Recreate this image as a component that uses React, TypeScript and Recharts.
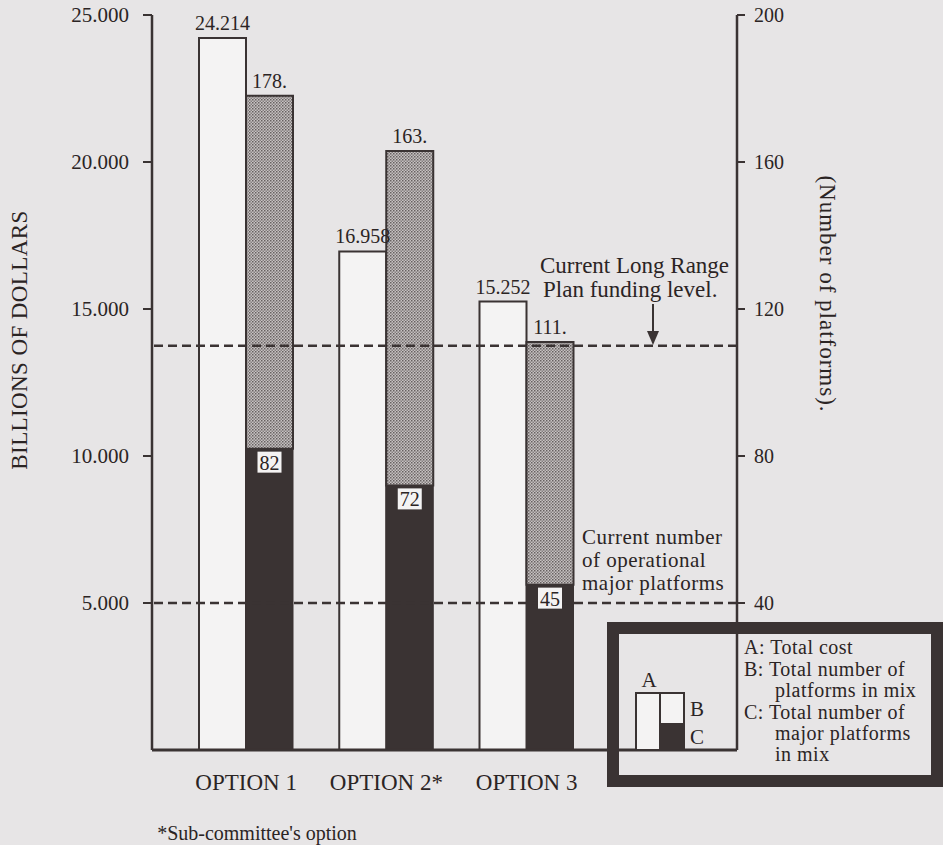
import React from 'react';
import { ComposedChart, Bar, XAxis, YAxis, ReferenceLine, LabelList } from 'recharts';

// values
const categories = ['OPTION 1', 'OPTION 2*', 'OPTION 3', ''];
const totalCost = [24.214, 16.958, 15.252]; // billions of dollars
const totalPlatforms = [178, 163, 111];
const majorPlatforms = [82, 72, 45];
const costTicks = [5, 10, 15, 20, 25];
const platformTicks = [40, 80, 120, 160, 200];
const longRangeLevel = 110; // dashed line, on the platforms scale
const operationalLevel = 40;

const INK = '#3a3333';
const TEXT = '#2b2424';
const PAPER = '#e7e5e6';
const WHITE = '#f4f3f3';
const FONT = '"Liberation Serif", "Times New Roman", serif';

const data = categories.map((name, i) => ({
  name,
  cost: totalCost[i],
  major: majorPlatforms[i],
  rest: totalPlatforms[i] !== undefined ? totalPlatforms[i] - majorPlatforms[i] : undefined,
  total: totalPlatforms[i],
}));

const OptionTick = ({ x, y, payload }: any) => (
  <text x={x} y={y + 32} textAnchor="middle" dominantBaseline="central" fontSize={23} fill={TEXT} fontFamily={FONT}>
    {payload.value}
  </text>
);

const MajorLabel = ({ x, y, width, value }: any) => {
  if (value === undefined || value === null) return null;
  const cx = x + width / 2;
  return (
    <g>
      <rect x={cx - 12} y={y + 3} width={24} height={21} fill={WHITE} />
      <text x={cx} y={y + 14} textAnchor="middle" dominantBaseline="central" fontSize={20} fill={TEXT} fontFamily={FONT}>
        {value}
      </text>
    </g>
  );
};

const legendLine = { dominantBaseline: 'central' as const, fontSize: 20, letterSpacing: 0.5, fill: TEXT };
const noteLine = { dominantBaseline: 'central' as const, fontSize: 21, letterSpacing: 0.5, fill: TEXT };

const App: React.FC = () => {
  return (
    <div style={{ position: 'relative', width: 943, height: 845, background: PAPER, fontFamily: FONT }}>
      <style>{'body{margin:0}'}</style>
      <div style={{ position: 'absolute', left: 0, top: 0 }}>
        <ComposedChart
          width={943}
          height={845}
          data={data}
          margin={{ top: 15, right: 0, bottom: 55, left: 0 }}
          barGap={0}
          barSize={47}
        >
          <defs>
            <pattern id="stipple" width="3" height="3" patternUnits="userSpaceOnUse">
              <rect width="3" height="3" fill="#c6c2c2" />
              <rect width="1.5" height="1.5" fill="#676060" />
              <rect x="1.5" y="1.5" width="1.5" height="1.5" fill="#857e7e" />
            </pattern>
          </defs>
          <XAxis
            dataKey="name"
            height={40}
            padding={{ left: 24, right: 0 }}
            axisLine={{ stroke: INK, strokeWidth: 3 }}
            tickLine={false}
            tickSize={0}
            tickMargin={0}
            tick={<OptionTick />}
            interval={0}
          />
          <YAxis
            yAxisId="cost"
            width={152}
            domain={[0, 25]}
            ticks={costTicks}
            tickFormatter={(v) => v.toFixed(3)}
            axisLine={{ stroke: INK, strokeWidth: 2.5 }}
            tickLine={{ stroke: INK, strokeWidth: 2 }}
            tickSize={9}
            tickMargin={14}
            tick={{ fontSize: 21, fill: TEXT, fontFamily: FONT }}
          />
          <YAxis
            yAxisId="count"
            orientation="right"
            width={206}
            domain={[0, 200]}
            ticks={platformTicks}
            axisLine={{ stroke: INK, strokeWidth: 2.5 }}
            tickLine={{ stroke: INK, strokeWidth: 2 }}
            tickSize={8}
            tickMargin={9}
            tick={{ fontSize: 20, fill: TEXT, fontFamily: FONT }}
          />
          <Bar yAxisId="cost" dataKey="cost" stackId="a" fill={WHITE} stroke={INK} strokeWidth={2} isAnimationActive={false}>
            <LabelList dataKey="cost" position="top" offset={8} formatter={(v: any) => (v == null ? '' : Number(v).toFixed(3))} style={{ fontSize: 20, fill: TEXT, fontFamily: FONT }} />
          </Bar>
          <Bar yAxisId="count" dataKey="major" stackId="p" fill={INK} stroke={INK} strokeWidth={1} isAnimationActive={false}>
            <LabelList dataKey="major" content={<MajorLabel />} />
          </Bar>
          <Bar yAxisId="count" dataKey="rest" stackId="p" fill="url(#stipple)" stroke={INK} strokeWidth={2} isAnimationActive={false}>
            <LabelList dataKey="total" position="top" offset={8} formatter={(v: any) => (v == null ? '' : `${v}.`)} style={{ fontSize: 20, fill: TEXT, fontFamily: FONT }} />
          </Bar>
          <ReferenceLine yAxisId="count" y={longRangeLevel} stroke={INK} strokeWidth={2.5} strokeDasharray="9 5" />
          <ReferenceLine yAxisId="count" y={operationalLevel} stroke={INK} strokeWidth={2.5} strokeDasharray="9 5" />
        </ComposedChart>
      </div>
      <svg width={943} height={845} style={{ position: 'absolute', left: 0, top: 0, pointerEvents: 'none' }} fontFamily={FONT}>
        <text transform="translate(19,340) rotate(-90)" textAnchor="middle" dominantBaseline="central" fontSize={23} letterSpacing={0.4} fill={TEXT}>
          BILLIONS OF DOLLARS
        </text>
        <text transform="translate(827,294) rotate(90)" textAnchor="middle" dominantBaseline="central" fontSize={23} letterSpacing={1} fill={TEXT}>
          (Number of platforms).
        </text>
        <text x={257} y={833} textAnchor="middle" dominantBaseline="central" fontSize={20} fill={TEXT}>
          *Sub-committee's option
        </text>

        <text x={540} y={265} dominantBaseline="central" fontSize={23} fill={TEXT}>Current Long Range</text>
        <text x={543} y={289} dominantBaseline="central" fontSize={23} fill={TEXT}>Plan funding level.</text>
        <line x1={653} y1={304} x2={653} y2={334} stroke={INK} strokeWidth={2} />
        <polygon points="647,331 659,331 653,345" fill={INK} />

        <text x={582} y={537} {...noteLine}>Current number</text>
        <text x={582} y={560} {...noteLine}>of operational</text>
        <text x={582} y={583} {...noteLine}>major platforms</text>

        <rect x={613} y={628} width={324} height={153} fill="none" stroke={INK} strokeWidth={12} />
        <rect x={636} y={693} width={24} height={57} fill={WHITE} stroke={INK} strokeWidth={2} />
        <rect x={660} y={693} width={24} height={57} fill={WHITE} stroke={INK} strokeWidth={2} />
        <rect x={660} y={724} width={24} height={26} fill={INK} stroke={INK} strokeWidth={2} />
        <text x={649} y={680} textAnchor="middle" dominantBaseline="central" fontSize={21} fill={TEXT}>A</text>
        <text x={690} y={709} dominantBaseline="central" fontSize={21} fill={TEXT}>B</text>
        <text x={690} y={737} dominantBaseline="central" fontSize={21} fill={TEXT}>C</text>

        <text x={744} y={647} {...legendLine}>A: Total cost</text>
        <text x={744} y={669} {...legendLine}>B: Total number of</text>
        <text x={775} y={690} {...legendLine}>platforms in mix</text>
        <text x={744} y={712} {...legendLine}>C: Total number of</text>
        <text x={775} y={733} {...legendLine}>major platforms</text>
        <text x={775} y={754} {...legendLine}>in mix</text>
      </svg>
    </div>
  );
};

export default App;
